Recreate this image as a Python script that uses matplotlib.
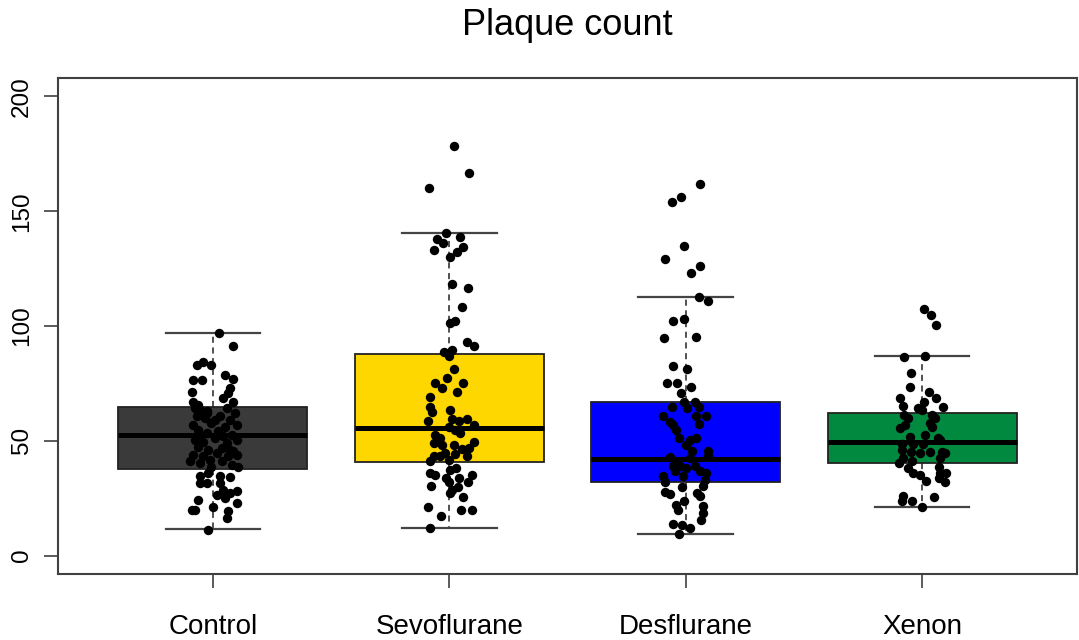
import matplotlib.pyplot as plt

plt.rcParams["font.family"] = ["Liberation Sans", "DejaVu Sans"]

groups = ["Control", "Sevoflurane", "Desflurane", "Xenon"]
box_colors = ["#3a3a3a", "#ffd700", "#0000ff", "#00893f"]

# box statistics
q1 = [37.7, 40.6, 31.9, 40.3]
med = [52.6, 55.8, 42.2, 49.3]
q3 = [64.6, 87.8, 66.7, 62.3]
whis_lo = [11.6, 12.0, 9.4, 21.4]
whis_hi = [97.1, 140.3, 112.5, 87.1]

# jittered points: value and horizontal offset from group centre
control_vals = [96.8, 91.3, 83.0, 84.5, 83.0, 78.7, 76.8, 76.5, 76.5, 72.9, 71.4, 70.7,
                67.1, 68.6, 67.1, 65.7, 64.2,
                63.5, 62.8, 64.2, 62.0, 60.6, 59.9, 60.6, 59.1, 57.0, 57.7, 56.2, 57.0,
                54.8, 53.3, 54.1, 52.6, 50.4, 49.7, 51.2, 49.0, 50.4, 47.5, 46.1, 46.8,
                45.4, 44.0, 43.2, 44.6, 43.2, 44.0, 41.0, 40.3, 38.8, 41.0, 39.6, 38.8,
                62.0, 59.1, 51.9, 51.9, 41.7, 46.1,
                35.9, 34.5, 34.1, 34.5, 31.6, 31.6, 31.6, 28.7, 27.3, 28.0, 26.5, 25.1,
                24.3, 22.9, 20.0, 20.0, 21.4, 19.3, 16.4, 11.3]
control_jit = [0.025, 0.083, -0.069, -0.041, -0.006, 0.051, 0.085, -0.083, -0.048, 0.072, -0.090, 0.065,
               0.086, 0.044, -0.083, -0.062, -0.076,
               -0.055, -0.027, 0.058, 0.093, -0.069, -0.034, 0.030, 0.072, -0.083, -0.006, 0.051, 0.100,
               -0.062, -0.027, 0.023, 0.079, -0.076, -0.041, 0.008, 0.058, 0.100, -0.062, -0.020, 0.037,
               0.086, -0.083, -0.041, 0.016, 0.065, 0.100, -0.097, -0.055, -0.006, 0.037, 0.079, 0.107,
               -0.027, 0.008, -0.055, 0.044, -0.013, 0.072,
               -0.020, 0.030, 0.072, -0.055, -0.055, -0.027, 0.030, 0.044, 0.072, 0.100, 0.016, 0.051,
               -0.062, 0.100, -0.090, -0.076, 0.001, 0.065, 0.061, -0.020]

sevo_vals = [178.3, 166.8, 160.1, 140.6, 138.1, 136.2, 138.8, 133.0, 134.2, 132.3, 130.1,
             118.3, 116.4, 108.4, 101.2, 102.3, 93.2, 91.3, 88.8, 89.6, 87.0, 81.2, 77.3,
             75.1, 72.9, 75.4, 71.4, 69.3, 64.9, 62.7, 63.5, 58.8, 59.4, 58.8, 59.4, 57.0,
             56.2, 54.8, 53.3, 52.6, 51.2, 49.0, 48.3, 49.3, 46.8, 48.3, 46.4, 43.2, 43.5,
             44.6, 44.3, 43.2, 41.7, 41.0, 38.1, 37.4, 36.2, 35.2, 35.2, 33.8, 33.8, 30.4,
             31.9, 31.9, 30.1, 27.3, 28.7, 25.5, 21.4, 20.0, 20.0, 17.4, 11.9]
sevo_jit = [0.018, 0.082, -0.085, -0.013, -0.052, -0.027, 0.044, -0.066, 0.058, 0.033, 0.004,
            0.011, 0.077, 0.054, 0.004, 0.025, 0.075, 0.103, -0.024, 0.011, -0.003, 0.018, -0.010,
            -0.059, -0.031, 0.058, 0.033, -0.083, -0.080, -0.073, 0.001, -0.092, 0.011, 0.039, 0.075, 0.103,
            -0.003, 0.025, 0.047, -0.059, -0.038, -0.066, -0.031, 0.103, 0.082, 0.018, 0.054, -0.066, -0.038,
            -0.017, 0.025, 0.075, -0.003, -0.080, 0.030, 0.004, -0.080, -0.059, 0.096, -0.013, 0.039, -0.077,
            -0.003, 0.077, 0.035, 0.001, 0.011, 0.058, -0.092, 0.049, 0.096, -0.034, -0.083]

desf_vals = [162.0, 156.2, 154.0, 134.8, 129.0, 126.1, 122.9, 112.5, 111.0, 102.3, 102.9,
             94.6, 95.1, 82.6, 81.2, 75.4, 75.4, 73.3, 71.0, 67.1, 66.7, 64.9, 64.6, 64.2,
             60.6, 60.9, 60.9, 58.4, 57.0, 57.4, 54.8, 51.4, 50.4, 51.4, 48.3, 45.4, 45.4,
             42.9, 43.2, 42.5, 40.3, 39.1, 39.1, 39.1, 38.1, 36.7, 36.7, 36.0, 34.5, 34.5,
             33.0, 31.9, 30.1, 30.4, 27.5, 27.0, 27.3, 26.1, 24.0, 22.2, 20.0, 21.7, 18.6,
             15.7, 13.9, 13.5, 12.0, 9.4]
desf_jit = [0.062, -0.022, -0.060, -0.008, -0.086, 0.062, 0.024, 0.055, 0.092, -0.054, -0.008,
            -0.093, 0.042, -0.056, 0.005, -0.079, -0.035, 0.021, -0.022, -0.008, 0.038, 0.056, -0.060, 0.005,
            -0.096, 0.042, 0.087, -0.068, -0.054, 0.056, -0.042, -0.028, 0.020, 0.042, 0.000, 0.094, 0.028,
            -0.068, 0.094, 0.017, -0.039, -0.056, -0.025, 0.038, 0.000, 0.059, -0.047, 0.087, -0.096, -0.011,
            0.080, -0.089, -0.018, 0.073, -0.089, -0.068, 0.048, 0.059, -0.008, -0.042, -0.033, 0.071, 0.071,
            0.066, -0.056, -0.018, 0.017, -0.028]

xenon_vals = [107.3, 104.8, 100.4, 86.4, 87.0, 79.7, 73.3, 71.4, 68.6, 68.6, 67.1, 65.2,
              64.6, 64.2, 63.5, 61.3, 59.9, 61.3, 59.9, 57.0, 57.7, 56.2, 55.5, 52.6, 51.6,
              51.2, 50.4, 48.7, 48.7, 48.7, 46.1, 45.3, 45.3, 44.6, 44.6, 45.3, 42.5, 42.5,
              40.3, 41.4, 38.1, 38.8, 36.0, 35.2, 36.0, 36.0, 33.8, 32.3, 31.9, 26.1, 23.6,
              23.6, 25.4, 21.4]
xenon_jit = [0.006, 0.038, 0.059, -0.079, 0.013, -0.047, -0.051, 0.027, -0.093, 0.059, 0.006, -0.082,
             0.087, -0.016, -0.001, -0.079, -0.058, 0.041, 0.055, -0.072, 0.034, 0.041, -0.093, 0.013, -0.051,
             0.065, 0.076, -0.086, -0.037, 0.003, -0.086, -0.048, 0.083, 0.097, -0.008, 0.034, -0.082, 0.076,
             -0.100, -0.044, -0.058, 0.073, -0.037, -0.008, 0.076, 0.101, 0.069, 0.017, 0.097, -0.082, -0.086,
             -0.044, 0.051, -0.001]

point_vals = [control_vals, sevo_vals, desf_vals, xenon_vals]
point_jit = [control_jit, sevo_jit, desf_jit, xenon_jit]

fig = plt.figure(figsize=(10.79, 6.40), dpi=100)
ax = fig.add_axes([0.0538, 0.1031, 0.9444, 0.775])

stats = []
for i, g in enumerate(groups):
    stats.append({"label": g, "q1": q1[i], "med": med[i], "q3": q3[i],
                  "whislo": whis_lo[i], "whishi": whis_hi[i], "fliers": []})

bp = ax.bxp(stats, positions=[1, 2, 3, 4], widths=0.8, capwidths=0.4,
            patch_artist=True, showfliers=False,
            boxprops=dict(edgecolor="#222222", linewidth=1.3),
            medianprops=dict(color="black", linewidth=3.6, solid_capstyle="butt"),
            whiskerprops=dict(color="#222222", linewidth=1.1, linestyle=(0, (4, 3))),
            capprops=dict(color="#444444", linewidth=1.6))
for patch, c in zip(bp["boxes"], box_colors):
    patch.set_facecolor(c)

for i in range(len(groups)):
    xs = [i + 1 + j for j in point_jit[i]]
    ax.scatter(xs, point_vals[i], s=46, color="black", zorder=5, linewidths=0)

ax.set_xlim(0.345, 4.655)
ax.set_ylim(-8, 208)
ax.set_xticks([1, 2, 3, 4])
ax.set_xticklabels(groups)
ax.set_yticks([0, 50, 100, 150, 200])
ax.set_yticklabels(["0", "50", "100", "150", "200"], rotation=90, va="center")

for s in ax.spines.values():
    s.set_color("#404040")
    s.set_linewidth(1.5)
ax.tick_params(axis="both", length=10, width=1.2, color="#404040")
ax.tick_params(axis="x", labelsize=20, pad=19)
ax.tick_params(axis="y", labelsize=17.5, pad=8)

fig.text(0.5255, 0.96, "Plaque count", ha="center", va="center", fontsize=26)

fig.savefig("out.png", dpi=100)
